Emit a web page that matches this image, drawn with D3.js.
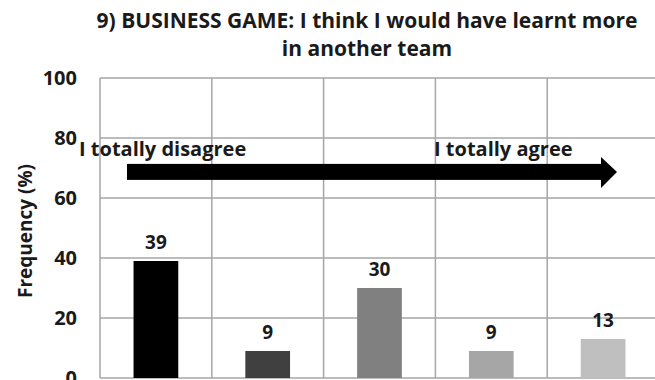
<!DOCTYPE html>
<html>
<head>
<meta charset="utf-8">
<script src="https://cdn.jsdelivr.net/npm/d3@7"></script>
<style>
  body { margin: 0; background: #fff; }
  text { font-family: "Open Sans", sans-serif; }
</style>
</head>
<body>
<svg id="chart" width="655" height="380"></svg>
<script>
// ========= Data ========= //
const categories = ['1', '2', '3', '4', '5'];
const values = [39, 9, 30, 9, 13];
const colors = ['#000000', '#404040', '#808080', '#a6a6a6', '#bfbfbf'];
const yTicks = [0, 20, 40, 60, 80, 100];
const titleLines = ['9) BUSINESS GAME: I think I would have learnt more', 'in another team'];
const yTitle = 'Frequency (%)';
const scaleNotes = ['I totally disagree', 'I totally agree'];

// ========= Setup ========= //
const margin = { top: 78, left: 100, plotRight: 659, bottom: 378 };
const svg = d3.select('#chart');

const x = d3.scaleBand()
  .domain(categories)
  .range([margin.left, margin.plotRight]);

const y = d3.scaleLinear()
  .domain([0, 100])
  .range([margin.bottom, margin.top]);

const barWidth = x.bandwidth() * 0.4;

// ========= Grid ========= //
svg.append('g')
  .attr('class', 'h-grid')
  .selectAll('line')
  .data(yTicks)
  .join('line')
    .attr('x1', margin.left)
    .attr('x2', margin.plotRight)
    .attr('y1', d => y(d))
    .attr('y2', d => y(d))
    .attr('stroke', '#a6a6a6')
    .attr('stroke-width', 1.5);

svg.append('g')
  .attr('class', 'v-grid')
  .selectAll('line')
  .data(categories)
  .join('line')
    .attr('x1', d => x(d))
    .attr('x2', d => x(d))
    .attr('y1', y(100))
    .attr('y2', y(0))
    .attr('stroke', '#a6a6a6')
    .attr('stroke-width', 1.5);

// ========= Y axis labels ========= //
svg.append('g')
  .attr('class', 'y-labels')
  .selectAll('text')
  .data(yTicks)
  .join('text')
    .attr('x', margin.left - 23)
    .attr('y', d => y(d))
    .attr('dy', '0.36em')
    .attr('text-anchor', 'end')
    .attr('font-size', '20px')
    .attr('font-weight', 'bold')
    .attr('fill', '#1a1a1a')
    .text(d => d);

svg.append('text')
  .attr('transform', `translate(25 231) rotate(-90)`)
  .attr('text-anchor', 'middle')
  .attr('dy', '0.35em')
  .attr('font-size', '19px')
  .attr('font-weight', 'bold')
  .attr('fill', '#1a1a1a')
  .text(yTitle);

// ========= Bars ========= //
svg.append('g')
  .attr('class', 'bars')
  .selectAll('rect')
  .data(values)
  .join('rect')
    .attr('x', (d, i) => x(categories[i]) + (x.bandwidth() - barWidth) / 2)
    .attr('y', d => y(d))
    .attr('width', barWidth)
    .attr('height', d => y(0) - y(d))
    .attr('fill', (d, i) => colors[i]);

svg.append('g')
  .attr('class', 'bar-labels')
  .selectAll('text')
  .data(values)
  .join('text')
    .attr('x', (d, i) => x(categories[i]) + x.bandwidth() / 2)
    .attr('y', d => y(d) - 12)
    .attr('text-anchor', 'middle')
    .attr('font-size', '19px')
    .attr('font-weight', 'bold')
    .attr('fill', '#1a1a1a')
    .text(d => d);

// ========= Arrow annotation ========= //
const arrowY = y(68.7);
const arrow = svg.append('g').attr('class', 'arrow');
arrow.append('rect')
  .attr('x', 127)
  .attr('y', arrowY - 8)
  .attr('width', 475)
  .attr('height', 16)
  .attr('fill', '#000');
arrow.append('path')
  .attr('d', `M601,${arrowY - 15}L617,${arrowY}L601,${arrowY + 16}Z`)
  .attr('fill', '#000');

svg.append('g')
  .attr('class', 'notes')
  .selectAll('text')
  .data(scaleNotes)
  .join('text')
    .attr('x', (d, i) => i === 0 ? 79 : 434)
    .attr('y', 156)
    .attr('font-size', '20px')
    .attr('font-weight', 'bold')
    .attr('fill', '#1a1a1a')
    .text(d => d);

// ========= Title ========= //
svg.append('g')
  .attr('class', 'title')
  .selectAll('text')
  .data(titleLines)
  .join('text')
    .attr('x', 367)
    .attr('y', (d, i) => 28 + i * 28)
    .attr('text-anchor', 'middle')
    .attr('font-size', '21px')
    .attr('font-weight', 'bold')
    .attr('fill', '#1a1a1a')
    .text(d => d);
</script>
</body>
</html>
